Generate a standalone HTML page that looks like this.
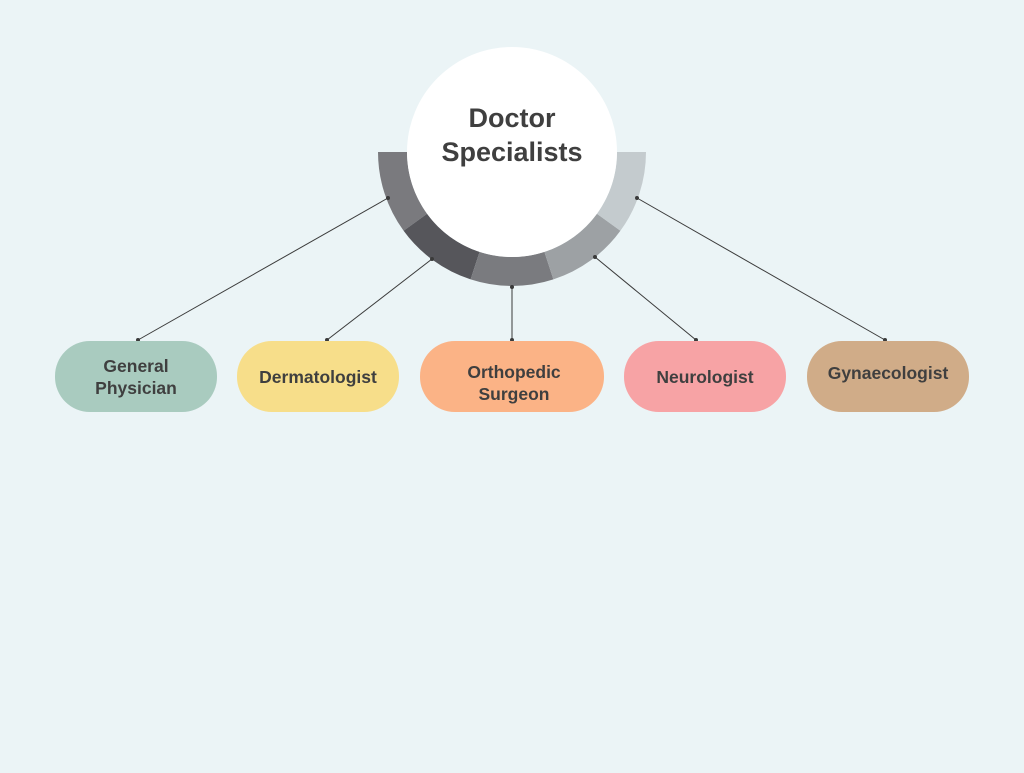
<!DOCTYPE html>
<html><head><meta charset="utf-8"><style>
html,body{margin:0;padding:0;}
body{width:1024px;height:768px;background:#ebf4f6;overflow:hidden;font-family:"Liberation Sans",sans-serif;}
</style></head><body>
<svg width="1024" height="768" viewBox="0 0 1024 768" xmlns="http://www.w3.org/2000/svg">
<rect width="1024" height="768" fill="#ebf4f6"/>
<path d="M378,152 A134,134 0 0 0 403.6,230.8 L427.1,213.7 A105,105 0 0 1 407,152 Z" fill="#7a7a7e"/>
<path d="M403.6,230.8 A134,134 0 0 0 470.6,279.4 L479.6,251.9 A105,105 0 0 1 427.1,213.7 Z" fill="#56565b"/>
<path d="M470.6,279.4 A134,134 0 0 0 553.4,279.4 L544.4,251.9 A105,105 0 0 1 479.6,251.9 Z" fill="#7a7b7f"/>
<path d="M553.4,279.4 A134,134 0 0 0 620.4,230.8 L596.9,213.7 A105,105 0 0 1 544.4,251.9 Z" fill="#9da1a4"/>
<path d="M620.4,230.8 A134,134 0 0 0 646,152 L617,152 A105,105 0 0 1 596.9,213.7 Z" fill="#c4cbce"/>
<circle cx="512" cy="152" r="105" fill="#ffffff"/>
<g font-weight="bold" font-size="27" fill="#3f3f3f" text-anchor="middle">
<text x="512" y="127">Doctor</text>
<text x="512" y="161">Specialists</text>
</g>
<g stroke="#3a3a3a" stroke-width="1">
<line x1="388" y1="198" x2="138" y2="340"/>
<line x1="432" y1="259" x2="327" y2="340"/>
<line x1="512" y1="287" x2="512" y2="340"/>
<line x1="595" y1="257" x2="696" y2="340"/>
<line x1="637" y1="198" x2="885" y2="340"/>
</g>
<g fill="#3a3a3a">
<circle cx="388" cy="198" r="2"/><circle cx="138" cy="340" r="2"/>
<circle cx="432" cy="259" r="2"/><circle cx="327" cy="340" r="2"/>
<circle cx="512" cy="287" r="2"/><circle cx="512" cy="340" r="2"/>
<circle cx="595" cy="257" r="2"/><circle cx="696" cy="340" r="2"/>
<circle cx="637" cy="198" r="2"/><circle cx="885" cy="340" r="2"/>
</g>
<rect x="55" y="341" width="162" height="71" rx="35" fill="#a9cbbf"/>
<rect x="237" y="341" width="162" height="71" rx="35" fill="#f7de8a"/>
<rect x="420" y="341" width="184" height="71" rx="35" fill="#fbb386"/>
<rect x="624" y="341" width="162" height="71" rx="35" fill="#f7a3a5"/>
<rect x="807" y="341" width="162" height="71" rx="35" fill="#d0ac88"/>
<g font-weight="bold" font-size="17.5" fill="#3f3f3f" text-anchor="middle">
<text x="136" y="372">General</text>
<text x="136" y="394">Physician</text>
<text x="318" y="383">Dermatologist</text>
<text x="514" y="378">Orthopedic</text>
<text x="514" y="400">Surgeon</text>
<text x="705" y="383">Neurologist</text>
<text x="888" y="379">Gynaecologist</text>
</g>
</svg>
</body></html>
